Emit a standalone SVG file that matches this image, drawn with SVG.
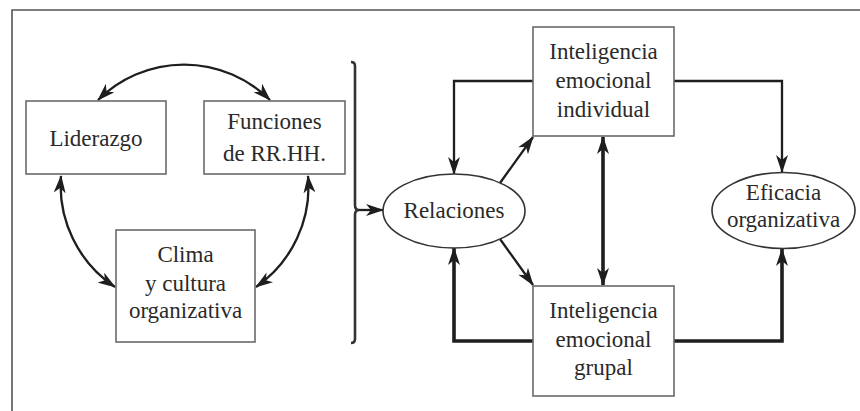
<svg xmlns="http://www.w3.org/2000/svg" width="860" height="411" viewBox="0 0 860 411">
<defs>
<marker id="ah" viewBox="0 0 18 12" refX="17" refY="6" markerWidth="18" markerHeight="12" markerUnits="userSpaceOnUse" orient="auto-start-reverse">
<path d="M0,0 L18,6 L0,12 L5,6 z" fill="#1e1e1e"/>
</marker>
</defs>
<style>
.box{fill:#fff;stroke:#6a6a6a;stroke-width:1.6}
.ell{fill:#fff;stroke:#333;stroke-width:1.6}
.t{font-family:"Liberation Serif","Times New Roman",serif;font-size:23px;fill:#2a2a2a;text-anchor:middle}
.c{fill:none;stroke:#1e1e1e;stroke-width:2.3}
.k{fill:none;stroke:#1e1e1e;stroke-width:3.6}
.frame{fill:none;stroke:#555;stroke-width:1.6}
</style>
<path class="frame" d="M860,10 L12,10 L12,411"/>
<g id="connectors">
<path class="c" d="M98,100 A122,122 0 0 1 270,100" marker-start="url(#ah)" marker-end="url(#ah)"/>
<path class="c" d="M61,176 A122,122 0 0 0 115,287" marker-start="url(#ah)" marker-end="url(#ah)"/>
<path class="c" d="M308,176 A122,122 0 0 1 256,287" marker-start="url(#ah)" marker-end="url(#ah)"/>
<path fill="none" stroke="#333" stroke-width="2.6" d="M351,62 Q355,62 355,66 L355,205 Q355,210 359,210 Q355,210 355,215 L355,339 Q355,343 351,343"/>
<path class="c" d="M359,210 L383,210" marker-end="url(#ah)"/>
<path class="c" d="M533,81 L454,81 L454,174" marker-end="url(#ah)"/>
<path class="c" d="M674,81 L782,81 L782,172" marker-end="url(#ah)"/>
<path class="k" d="M533,341 L454,341 L454,248" marker-end="url(#ah)"/>
<path class="k" d="M674,341 L782,341 L782,249" marker-end="url(#ah)"/>
<path class="k" d="M603,137 L603,285" marker-start="url(#ah)" marker-end="url(#ah)"/>
<path class="c" d="M500,183 L533,137" marker-end="url(#ah)"/>
<path class="c" d="M500,239 L533,285" marker-end="url(#ah)"/>
</g>
<g id="liderazgo">
<rect class="box" x="26" y="101" width="140" height="73"/>
<text class="t" x="96" y="146">Liderazgo</text>
</g>
<g id="funciones">
<rect class="box" x="204" y="101" width="141" height="73"/>
<text class="t" x="274.5" y="129">Funciones</text>
<text class="t" x="274.5" y="161">de RR.HH.</text>
</g>
<g id="clima">
<rect class="box" x="116" y="230" width="139" height="112"/>
<text class="t" x="185.5" y="262">Clima</text>
<text class="t" x="185.5" y="291">y cultura</text>
<text class="t" x="185.5" y="318">organizativa</text>
</g>
<g id="relaciones">
<ellipse class="ell" cx="454" cy="211" rx="71" ry="37"/>
<text class="t" x="454" y="218">Relaciones</text>
</g>
<g id="individual">
<rect class="box" x="533" y="27" width="141" height="109"/>
<text class="t" x="603.5" y="59">Inteligencia</text>
<text class="t" x="603.5" y="88">emocional</text>
<text class="t" x="603.5" y="117">individual</text>
</g>
<g id="grupal">
<rect class="box" x="533" y="286" width="141" height="110"/>
<text class="t" x="603.5" y="318">Inteligencia</text>
<text class="t" x="603.5" y="347">emocional</text>
<text class="t" x="603.5" y="375">grupal</text>
</g>
<g id="eficacia">
<ellipse class="ell" cx="783.5" cy="210.5" rx="71.5" ry="38"/>
<text class="t" x="783.5" y="200">Eficacia</text>
<text class="t" x="783.5" y="227">organizativa</text>
</g>
</svg>
